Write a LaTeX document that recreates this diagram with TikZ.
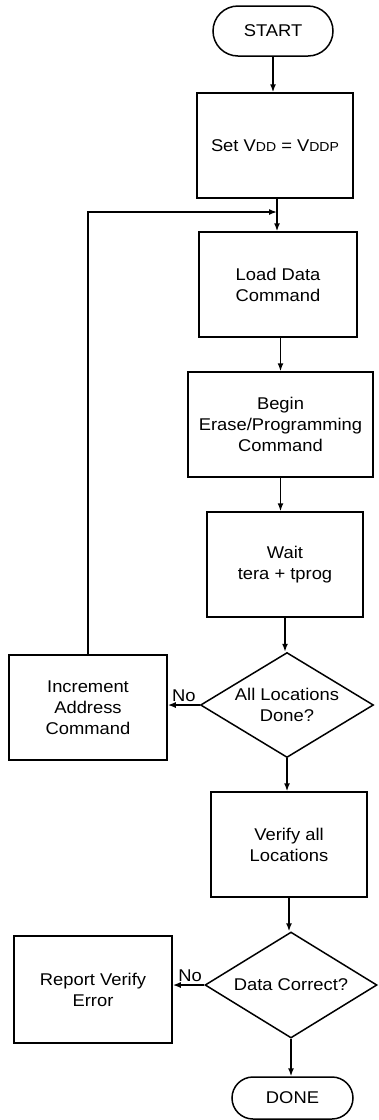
\documentclass[tikz,border=0pt]{standalone}
\usepackage{fontspec}
\setmainfont{Liberation Sans}[FakeStretch=1.08]
\usetikzlibrary{shapes.geometric,shapes.misc,arrows.meta}
\newcommand{\smallcaps}[1]{{\fontsize{13}{13}\selectfont #1}}
\begin{document}
\begin{tikzpicture}[x=1pt,y=-1pt,
  every node/.style={font=\fontsize{17}{21}\selectfont, align=center, inner sep=0pt},
  stepbox/.style={draw, line width=1.5pt, rectangle, minimum width=156pt, minimum height=105pt},
  term/.style={draw, line width=1.5pt, rounded rectangle, minimum width=120pt, minimum height=50pt},
  decide/.style={draw, line width=1.5pt, diamond, minimum width=173pt, minimum height=105pt},
  arr/.style={line width=1.5pt, -{Latex[length=8pt,width=6pt]}},
  nolabel/.style={font=\fontsize{17}{21}\selectfont}]
\useasboundingbox (0,0) rectangle (378,1120);

% main column
\node[term] (start) at (273,31) {START};
\node[stepbox] (set) at (275,145.5) {Set V\smallcaps{DD} = V\smallcaps{DDP}};
\node[stepbox, minimum width=158pt] (load) at (278,284.5) {Load Data\\Command};
\node[stepbox, minimum width=185pt] (erase) at (280.5,424.5) {Begin\\Erase/Programming\\Command};
\node[stepbox] (wait) at (285,564.5) {Wait\\tera + tprog};
\node[decide] (d1) at (287,705) {};
\node (d1t) at (287,705) {All Locations\\Done?};
\node[stepbox] (verify) at (289,844.5) {Verify all\\Locations};
\node[decide, minimum width=172pt, minimum height=106pt] (d2) at (291,985) {};
\node (d2t) at (291,985) {Data Correct?};
\node[term, minimum width=121pt, minimum height=42pt] (done) at (292.5,1098) {DONE};

% side boxes
\node[stepbox, minimum width=158pt] (inc) at (88,707.5) {Increment\\Address\\Command};
\node[stepbox, minimum width=158pt, minimum height=107pt] (report) at (93,989.5) {Report Verify\\Error};

% junction where the loop rejoins the main flow
\coordinate (loopj) at (277,212);

% connectors
\draw[arr] (start.south) -- (start.south |- set.north);
\draw[arr] (set.south -| loopj) -- (loopj |- load.north);
\draw[arr] (erase.north |- load.south) -- (erase.north);
\draw[arr] (erase.south) -- (erase.south |- wait.north);
\draw[arr] (wait.south) -- (wait.south |- d1.north);
\draw[arr] (d1.south) -- (d1.south |- verify.north);
\draw[arr] (verify.south) -- (verify.south |- d2.north);
\draw[arr] (d2.south) -- (d2.south |- done.north);

\draw[arr] (d1.west) -- (inc.east |- d1.west)
  node[nolabel, pos=0.5, above=3pt] {No};
\draw[arr] (d2.west) -- (report.east |- d2.west)
  node[nolabel, pos=0.45, above=3pt] {No};

\draw[arr] (inc.north) |- (loopj);
\end{tikzpicture}
\end{document}
